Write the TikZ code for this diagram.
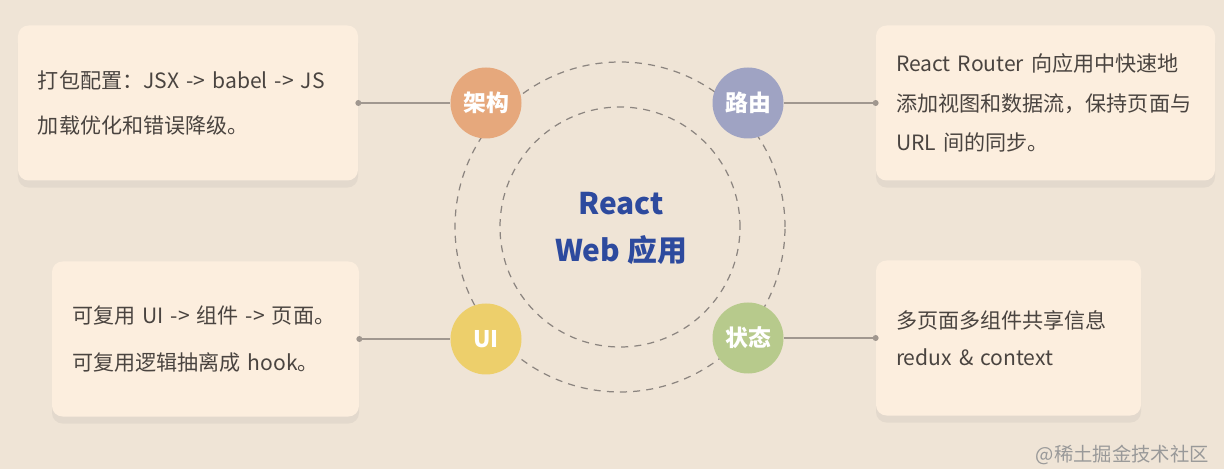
\documentclass[tikz,border=0pt]{standalone}
\usepackage{fontspec}
\setmainfont{Noto Sans CJK SC}
\usetikzlibrary{shadows}

\definecolor{bgcol}{HTML}{EFE4D6}
\definecolor{cardcol}{HTML}{FCEEDE}
\definecolor{inkcol}{HTML}{4A4440}
\definecolor{linecol}{HTML}{A0978F}
\definecolor{ringcol}{HTML}{8C8580}
\definecolor{titlecol}{HTML}{2D4A9E}
\definecolor{archcol}{HTML}{E6A87C}
\definecolor{routecol}{HTML}{9FA3C3}
\definecolor{uicol}{HTML}{EDCF6B}
\definecolor{statecol}{HTML}{B7CA8C}

\begin{document}
\begin{tikzpicture}[
        card/.style={fill=cardcol, rounded corners=6pt, text=inkcol, align=left,
            inner xsep=0.4cm, minimum height=3.1cm,
            drop shadow={shadow xshift=0pt, shadow yshift=-4pt, opacity=0.1}},
        topic/.style={circle, minimum size=1.42cm, inner sep=0pt, text=white,
            font=\fontsize{13}{13}\selectfont\bfseries},
        ring/.style={draw=ringcol, line width=0.7pt, dash pattern=on 4pt off 3.5pt},
        conn/.style={draw=linecol, line width=0.8pt}
    ]
    \useasboundingbox[fill=bgcol] (0,0) rectangle (24.48,9.38);
    % rings round the centre
    \coordinate (mid) at (12.4,4.84);
    \draw[ring] (mid) circle (3.3);
    \draw[ring] (mid) circle (2.4);
    \node[text=titlecol, align=center, font=\fontsize{17}{27}\selectfont\bfseries] (app) at (12.42,4.81) {React\\Web 应用};
    % four topics
    \node[topic, fill=archcol] (arch) at (9.72,7.32) {架构};
    \node[topic, fill=routecol] (route) at (14.96,7.32) {路由};
    \node[topic, fill=uicol] (ui) at (9.72,2.6) {UI};
    \node[topic, fill=statecol] (state) at (14.96,2.62) {状态};
    % cards
    \node[card, minimum width=6.8cm, text width=6.0cm, font=\fontsize{12}{25.5}\selectfont] (archtxt) at (3.76,7.32)
        {打包配置：JSX -> babel -> JS\\加载优化和错误降级。};
    \node[card, minimum width=6.78cm, text width=5.98cm, font=\fontsize{12}{22.7}\selectfont] (routetxt) at (20.91,7.32)
        {React Router 向应用中快速地\\添加视图和数据流，保持页面与\\URL 间的同步。};
    \node[card, minimum width=6.14cm, text width=5.34cm, font=\fontsize{12}{27}\selectfont] (uitxt) at (4.11,2.6)
        {可复用 UI -> 组件 -> 页面。\\可复用逻辑抽离成 hook。};
    \node[card, minimum width=5.3cm, text width=4.5cm, font=\fontsize{12}{21}\selectfont] (statetxt) at (20.17,2.62)
        {多页面多组件共享信息\\redux \& context};
    % connectors
    \draw[conn] (archtxt.east) -- (arch.west);
    \draw[conn] (route.east) -- (routetxt.west);
    \draw[conn] (uitxt.east) -- (ui.west);
    \draw[conn] (state.east) -- (statetxt.west);
    \fill[linecol] (archtxt.east) circle (0.06);
    \fill[linecol] (routetxt.west) circle (0.06);
    \fill[linecol] (uitxt.east) circle (0.06);
    \fill[linecol] (statetxt.west) circle (0.06);
    \node[text=black!40, font=\fontsize{11}{11}\selectfont, anchor=east] (mark) at (24.3,0.28) {@稀土掘金技术社区};
\end{tikzpicture}
\end{document}
